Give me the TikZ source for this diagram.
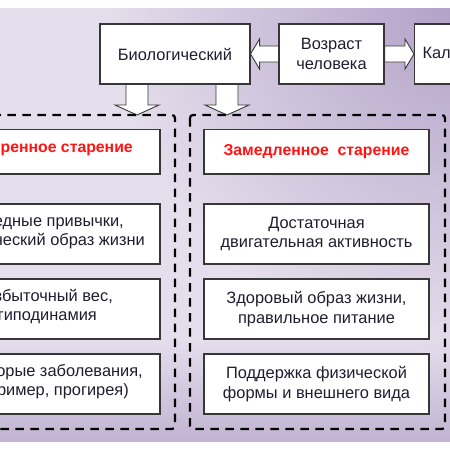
\documentclass[tikz,border=0pt]{standalone}
\usepackage{fontspec}
\setmainfont{Liberation Sans}
\usetikzlibrary{calc,fadings}
\definecolor{txt}{RGB}{30,30,48}
\definecolor{bgdark}{RGB}{176,158,198}
\definecolor{bglight}{RGB}{229,222,236}
\definecolor{bgmid}{RGB}{194,180,211}
\definecolor{redt}{RGB}{255,20,20}
\definecolor{edge}{RGB}{55,55,55}
\tikzfading[name=radfade, inner color=transparent!0, outer color=transparent!100]
\tikzfading[name=vfade, top color=transparent!100, bottom color=transparent!0]
\begin{document}
\begin{tikzpicture}[x=1pt,y=-1pt,
  box/.style={draw=edge, line width=1.1pt, fill=white, text=txt, align=center, inner sep=0pt, font=\fontsize{16.4}{19.5}\selectfont},
  grp/.style={draw=black, line width=2.2pt, dash pattern=on 8.5pt off 6.5pt, rounded corners=3pt},
  barrow/.style={draw=edge, line width=0.9pt, fill=white, line join=miter},
  frag/.style={text=txt, inner sep=0pt, anchor=base east, font=\fontsize{16.4}{19.5}\selectfont},
  redfrag/.style={frag, text=redt, font=\fontsize{15.8}{19.5}\selectfont\bfseries}
]
\useasboundingbox (0,0) rectangle (450,450);
\clip (0,0) rectangle (450,450);
\fill[bglight] (-1,8) rectangle (451,442);
\begin{scope}
\clip (-1,8) rectangle (451,442);
\fill[bgdark, path fading=radfade] (470,-10) circle (360);
\fill[bgmid, path fading=vfade] (-1,340) rectangle (451,442);
\end{scope}

% top row
\node[box, minimum width=150pt, minimum height=60pt] (bio) at (175,54) {Биологический};
\node[box, minimum width=105pt, minimum height=60pt] (age) at (331.5,54) {Возраст\\человека};
\node[box, minimum height=60pt, anchor=west, text width=134pt, align=left, inner xsep=8pt] (cal) at (414,54) {Календарный};

% horizontal block arrows
\draw[barrow] (bio.east) -- ++(9,-15) -- ++(0,7) -- ($(age.west)+(0,-8)$) -- ($(age.west)+(0,8)$) -- ($(bio.east)+(9,8)$) -- ++(0,7) -- cycle;
\draw[barrow] (cal.west) -- ++(-9,-15) -- ++(0,7) -- ($(age.east)+(0,-8)$) -- ($(age.east)+(0,8)$) -- ($(cal.west)+(-9,8)$) -- ++(0,7) -- cycle;

% down block arrows
\coordinate (t1) at (137,115);
\coordinate (t2) at (227,115);
\draw[barrow] (t1) -- ++(-22,-10) -- ++(11,0) -- ++(0,-21) -- ++(22,0) -- ++(0,21) -- ++(11,0) -- cycle;
\draw[barrow] (t2) -- ++(-22,-10) -- ++(11,0) -- ++(0,-21) -- ++(22,0) -- ++(0,21) -- ++(11,0) -- cycle;
\draw[draw=edge, line width=1.1pt] (bio.south west) -- (bio.south east);

% dashed groups
\draw[grp] (-20,115) rectangle (175,429);
\draw[grp] (190,115) rectangle (445,429);

% right column
\node[box, minimum width=225pt, minimum height=44.5pt, text=redt, font=\fontsize{15.8}{19.5}\selectfont\bfseries] (r1) at (316.5,151.7) {Замедленное\ \ старение};
\node[box, minimum width=225pt, minimum height=60pt] (r2) at (316.5,234) {Достаточная\\двигательная активность};
\node[box, minimum width=225pt, minimum height=60pt] (r3) at (316.5,309) {Здоровый образ жизни,\\правильное питание};
\node[box, minimum width=225pt, minimum height=60pt] (r4) at (316.5,384) {Поддержка физической\\формы и внешнего вида};

% left column
\node[box, minimum width=225pt, minimum height=44.5pt] (l1) at (47.5,151.7) {};
\node[box, minimum width=225pt, minimum height=60pt] (l2) at (47.5,234) {};
\node[box, minimum width=225pt, minimum height=60pt] (l3) at (47.5,309) {};
\node[box, minimum width=225pt, minimum height=60pt] (l4) at (47.5,384) {};
\node[redfrag] (l1a) at (133,152.7) {Ускоренное старение};
\node[frag] (l2a) at (124,226) {Вредные привычки,};
\node[frag] (l2b) at (145,245) {ческий образ жизни};
\node[frag] (l3a) at (113,301.7) {Избыточный вес,};
\node[frag] (l3b) at (97,320) {гиподинамия};
\node[frag] (l4a) at (143,376) {Некоторые заболевания,};
\node[frag] (l4b) at (129,395) {(например, прогирея)};
\end{tikzpicture}
\end{document}
